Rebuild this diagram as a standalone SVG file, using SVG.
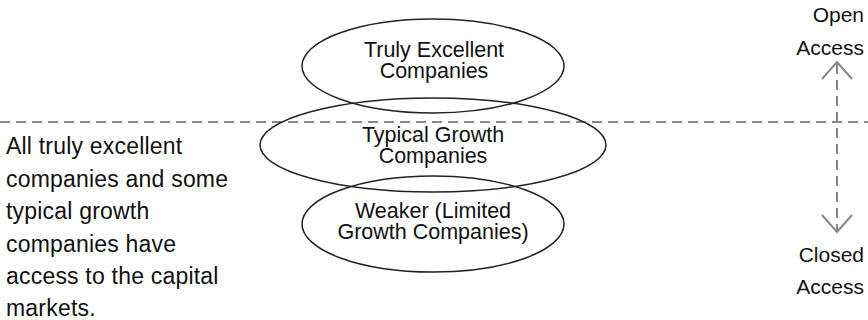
<svg xmlns="http://www.w3.org/2000/svg" width="868" height="320" viewBox="0 0 868 320">
<style>
.node ellipse{fill:none;stroke:#222;stroke-width:1.5}
text{font-family:"Liberation Sans",Arial,sans-serif;font-size:21px;fill:#111}
.node text{font-size:21.5px}
.note text{font-size:23px;letter-spacing:0.2px}
.c{text-anchor:middle}
.r{text-anchor:end}
.dash{stroke:#888;stroke-width:2;stroke-dasharray:10 6;fill:none}
.head{stroke:#888;stroke-width:2;fill:none}
</style>
<rect width="868" height="320" fill="#fff"/>
<g id="connectors">
<line class="dash" x1="0" y1="122" x2="868" y2="122"/>
<line class="dash" x1="837" y1="64" x2="837" y2="230"/>
<polyline class="head" points="822,79 837,62 852,79"/>
<polyline class="head" points="822,215 837,232 852,215"/>
</g>
<g id="truly" class="node">
<ellipse cx="433" cy="66" rx="131" ry="47"/>
<text class="c" x="434" y="57">Truly Excellent</text>
<text class="c" x="434" y="78">Companies</text>
</g>
<g id="typical" class="node">
<ellipse cx="433" cy="145" rx="173" ry="47"/>
<text class="c" x="433" y="142">Typical Growth</text>
<text class="c" x="433" y="163">Companies</text>
</g>
<g id="weaker" class="node">
<ellipse cx="433" cy="224" rx="131" ry="48"/>
<text class="c" x="433" y="218">Weaker (Limited</text>
<text class="c" x="433" y="239">Growth Companies)</text>
</g>
<g id="open">
<text class="r" x="864" y="22">Open</text>
<text class="r" x="864" y="55">Access</text>
</g>
<g id="closed">
<text class="r" x="864" y="262">Closed</text>
<text class="r" x="864" y="294">Access</text>
</g>
<g id="note" class="note">
<text x="6" y="154">All truly excellent</text>
<text x="6" y="187">companies and some</text>
<text x="6" y="219">typical growth</text>
<text x="6" y="252">companies have</text>
<text x="6" y="284">access to the capital</text>
<text x="6" y="316">markets.</text>
</g>
</svg>
